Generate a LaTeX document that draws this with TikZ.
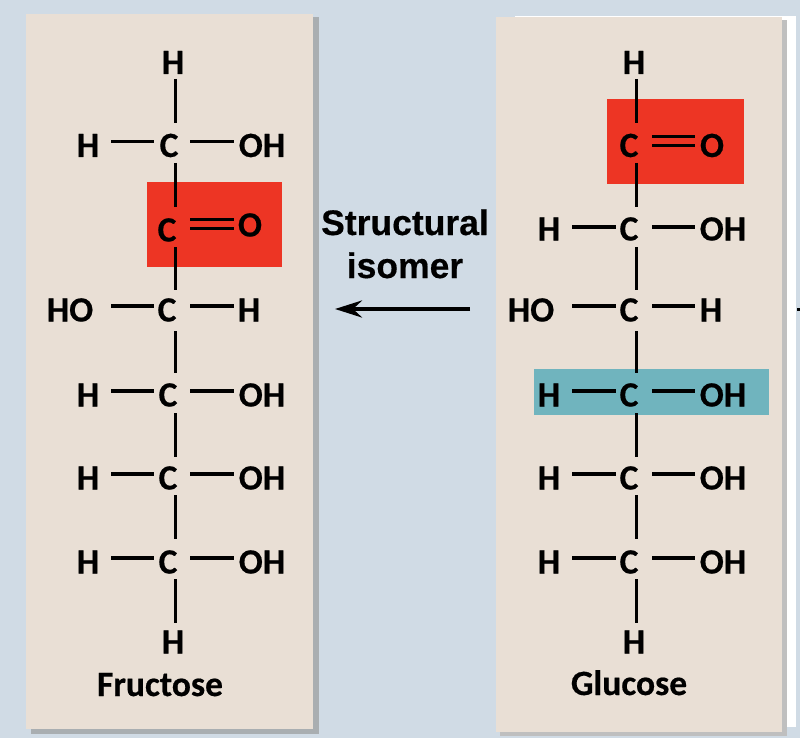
\documentclass[tikz,border=0pt]{standalone}
\usepackage{fontspec}
\usetikzlibrary{arrows.meta}
\newfontfamily\atomfont{Carlito}[BoldFeatures={FakeBold=0.5}]
\newfontfamily\capfont{Liberation Sans}[BoldFeatures={FakeBold=0.4}]
\definecolor{bgblue}{HTML}{D0DBE5}
\definecolor{panel}{HTML}{E9DFD5}
\definecolor{shadowa}{HTML}{A9AEB1}
\definecolor{shadowb}{HTML}{BFBFBF}
\definecolor{redbox}{HTML}{ED3524}
\definecolor{tealbox}{HTML}{70B4BE}
\tikzset{
  x=1pt,y=-1pt,
  atom/.style={inner sep=0pt,outer sep=0pt,text height=23pt,text depth=0pt,font=\atomfont\fontsize{35.5}{35.5}\selectfont\bfseries},
  caption/.style={inner sep=0pt,anchor=base,font=\atomfont\fontsize{35.5}{35.5}\selectfont\bfseries},
  isomer/.style={inner sep=0pt,anchor=base,font=\capfont\fontsize{35.5}{35.5}\selectfont\bfseries},
  bond/.style={line width=3.3pt,black},
  hb/.style 2 args={bond,shorten <=#1pt,shorten >=#2pt},
  vb/.style 2 args={bond,shorten <=#1pt,shorten >=#2pt}
}
\begin{document}
\begin{tikzpicture}
\useasboundingbox (0,0) rectangle (800,738);
\fill[bgblue] (0,0) rectangle (800,738);
% left panel
\fill[shadowa] (31,17) rectangle (319,734);
\fill[panel] (26,14) rectangle (313,729);
\fill[redbox] (147,182) rectangle (282,267);
% right panel
\fill[white] (515,16) rectangle (796,727);
\fill[shadowb] (500,20) rectangle (787,736);
\fill[panel] (496,17) rectangle (782,732);
\fill[redbox] (607,99) rectangle (744,184);
\fill[tealbox] (534,369) rectangle (769,415);

\coordinate (Lspine) at (175.3,0);
\coordinate (Rspine) at (636.3,0);

% ---- Fructose atoms
\node[atom] (Lht) at (173,62.5) {H};
\node[atom] (Lh1) at (88,145.5) {H};
\node[atom] (Lc1) at (169,145.5) {C};
\node[atom] (Lo1) at (262,145.5) {OH};
\node[atom] (Lc2) at (167,230) {C};
\node[atom] (Lo2) at (250,225) {O};
\node[atom] (Lh3) at (70,310) {HO};
\node[atom] (Lc3) at (167,310) {C};
\node[atom] (Lo3) at (249,310) {H};
\node[atom] (Lh4) at (88,395) {H};
\node[atom] (Lc4) at (168,395) {C};
\node[atom] (Lo4) at (262,395) {OH};
\node[atom] (Lh5) at (88,478) {H};
\node[atom] (Lc5) at (168,478) {C};
\node[atom] (Lo5) at (262,478) {OH};
\node[atom] (Lh6) at (88,562) {H};
\node[atom] (Lc6) at (168,562) {C};
\node[atom] (Lo6) at (262,562) {OH};
\node[atom] (Lhb) at (173,642) {H};
\node[caption] (Lname) at (160,696) {Fructose};

% ---- Glucose atoms
\node[atom] (Rht) at (634,62.5) {H};
\node[atom] (Rc1) at (629,145.5) {C};
\node[atom] (Ro1) at (712,145.5) {O};
\node[atom] (Rh2) at (549,229) {H};
\node[atom] (Rc2) at (629,229) {C};
\node[atom] (Ro2) at (723,229) {OH};
\node[atom] (Rh3) at (531,310) {HO};
\node[atom] (Rc3) at (629,310) {C};
\node[atom] (Ro3) at (711,310) {H};
\node[atom] (Rh4) at (549,395) {H};
\node[atom] (Rc4) at (629,395) {C};
\node[atom] (Ro4) at (723,395) {OH};
\node[atom] (Rh5) at (549,478) {H};
\node[atom] (Rc5) at (629,478) {C};
\node[atom] (Ro5) at (723,478) {OH};
\node[atom] (Rh6) at (549,562) {H};
\node[atom] (Rc6) at (629,562) {C};
\node[atom] (Ro6) at (723,562) {OH};
\node[atom] (Rhb) at (634,642) {H};
\node[caption] (Rname) at (629,695) {Glucose};

% ---- Fructose spine
\draw[vb={16.5}{22.5}] (Lht -| Lspine) -- (Lc1 -| Lspine);
\draw[vb={17.5}{23}] (Lc1 -| Lspine) -- (Lc2 -| Lspine);
\draw[vb={17}{20}] (Lc2 -| Lspine) -- (Lc3 -| Lspine);
\draw[vb={21}{22}] (Lc3 -| Lspine) -- (Lc4 -| Lspine);
\draw[vb={18}{21}] (Lc4 -| Lspine) -- (Lc5 -| Lspine);
\draw[vb={17}{23}] (Lc5 -| Lspine) -- (Lc6 -| Lspine);
\draw[vb={17}{19}] (Lc6 -| Lspine) -- (Lhb -| Lspine);
% ---- Fructose side bonds
\draw[hb={23}{15}] ([yshift=4.3pt]Lh1.center) -- ([yshift=4.3pt]Lc1.center);
\draw[hb={21}{28}] ([yshift=4.3pt]Lc1.center) -- ([yshift=4.3pt]Lo1.center);
\draw[hb={23}{16}] ([yshift=10.5pt]Lc2.center) -- ([yshift=5.5pt]Lo2.center);
\draw[hb={23}{16}] ([yshift=1.5pt]Lc2.center) -- ([yshift=-3.5pt]Lo2.center);
\draw[hb={41}{13}] ([yshift=4pt]Lh3.center) -- ([yshift=4pt]Lc3.center);
\draw[hb={23}{15}] ([yshift=4pt]Lc3.center) -- ([yshift=4pt]Lo3.center);
\foreach \r in {4,5,6}{
  \draw[hb={23}{14}] ([yshift=4pt]Lh\r.center) -- ([yshift=4pt]Lc\r.center);
  \draw[hb={22}{28}] ([yshift=4pt]Lc\r.center) -- ([yshift=4pt]Lo\r.center);
}

% ---- Glucose spine
\draw[vb={16.5}{22.5}] (Rht -| Rspine) -- (Rc1 -| Rspine);
\draw[vb={17.5}{22}] (Rc1 -| Rspine) -- (Rc2 -| Rspine);
\draw[vb={18}{20}] (Rc2 -| Rspine) -- (Rc3 -| Rspine);
\draw[vb={21}{22}] (Rc3 -| Rspine) -- (Rc4 -| Rspine);
\draw[vb={18}{21}] (Rc4 -| Rspine) -- (Rc5 -| Rspine);
\draw[vb={17}{23}] (Rc5 -| Rspine) -- (Rc6 -| Rspine);
\draw[vb={17}{19}] (Rc6 -| Rspine) -- (Rhb -| Rspine);
% ---- Glucose side bonds
\draw[hb={23}{17}] ([yshift=9pt]Rc1.center) -- ([yshift=9pt]Ro1.center);
\draw[hb={23}{17}] ([yshift=0pt]Rc1.center) -- ([yshift=0pt]Ro1.center);
\draw[hb={23}{13}] ([yshift=2pt]Rh2.center) -- ([yshift=2pt]Rc2.center);
\draw[hb={23}{28}] ([yshift=2pt]Rc2.center) -- ([yshift=2pt]Ro2.center);
\draw[hb={41}{13}] ([yshift=4pt]Rh3.center) -- ([yshift=4pt]Rc3.center);
\draw[hb={23}{16}] ([yshift=4pt]Rc3.center) -- ([yshift=4pt]Ro3.center);
\foreach \r in {4,5,6}{
  \draw[hb={23}{13}] ([yshift=4pt]Rh\r.center) -- ([yshift=4pt]Rc\r.center);
  \draw[hb={23}{28}] ([yshift=4pt]Rc\r.center) -- ([yshift=4pt]Ro\r.center);
}

% ---- middle label and arrow
\node[isomer] (lab1) at (405,235) {Structural};
\node[isomer] (lab2) at (405,278) {isomer};
\coordinate (arrowstart) at (470,309);
\coordinate (arrowend) at (335,309);
\draw[line width=4pt,-{Stealth[length=27pt,width=17pt,inset=9pt]}] (arrowstart) -- (arrowend);
\coordinate (ticka) at (797,309);
\coordinate (tickb) at (800,309);
\draw[line width=3pt] (ticka) -- (tickb);
\end{tikzpicture}
\end{document}
